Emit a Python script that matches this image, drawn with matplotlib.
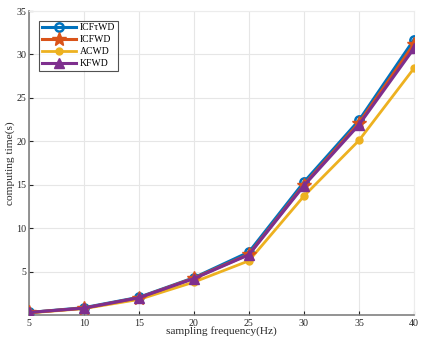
import matplotlib
matplotlib.use("Agg")
import matplotlib.pyplot as plt

freq = [5, 10, 15, 20, 25, 30, 35, 40]
icft_wd = [0.3, 0.85, 2.05, 4.3, 7.25, 15.3, 22.4, 31.7]
icf_wd = [0.3, 0.8, 2.0, 4.25, 7.0, 15.0, 22.1, 31.2]
ac_wd = [0.25, 0.75, 1.8, 3.8, 6.25, 13.7, 20.1, 28.4]
kf_wd = [0.3, 0.8, 2.0, 4.2, 6.95, 14.9, 21.9, 30.7]
labels = ["ICFτWD", "ICFWD", "ACWD", "KFWD"]
colors = ["#0072BD", "#D95319", "#EDB120", "#7E2F8E"]

plt.rcParams['font.family'] = ['Liberation Serif', 'DejaVu Serif']

fig = plt.figure(figsize=(4.25, 3.44), dpi=100)
ax = fig.add_axes([0.068, 0.084, 0.906, 0.884])

ax.plot(freq, icft_wd, color=colors[0], lw=2.2, marker='o', ms=6, mfc='none', mew=1.8, label=labels[0], zorder=3)
ax.plot(freq, icf_wd, color=colors[1], lw=2.2, marker='*', ms=10, label=labels[1], zorder=4)
ax.plot(freq, ac_wd, color=colors[2], lw=2.0, marker='o', ms=5, label=labels[2], zorder=3)
ax.plot(freq, kf_wd, color=colors[3], lw=2.2, marker='^', ms=7, label=labels[3], zorder=5)

ax.set_xlim(5, 40)
ax.set_ylim(0, 35)
ax.set_xticks(freq)
ax.set_yticks([5, 10, 15, 20, 25, 30, 35])
ax.tick_params(direction='in', labelsize=7.2, colors='#262626', length=3)
ax.tick_params(axis='x', pad=2.5)
ax.tick_params(axis='y', pad=2)
ax.grid(True, color='#e6e6e6', lw=0.8)
ax.set_axisbelow(True)
for s in ['left', 'bottom']:
    ax.spines[s].set_color('#808080')
    ax.spines[s].set_linewidth(1.2)
for s in ['top', 'right']:
    ax.spines[s].set_color('#ececec')
ax.set_xlabel('sampling frequency(Hz)', fontsize=8.2, color='#262626')
ax.set_ylabel('computing time(s)', fontsize=8.2, color='#262626')
ax.xaxis.set_label_coords(0.5, -0.036)
ax.yaxis.set_label_coords(-0.036, 0.5)
leg = ax.legend(loc='upper left', bbox_to_anchor=(0.022, 0.975), fontsize=7, frameon=True,
                fancybox=False, edgecolor='#262626', handlelength=3.5, borderpad=0.3,
                labelspacing=0.3, handletextpad=0.4, borderaxespad=0.2)
leg.get_frame().set_linewidth(0.8)
fig.savefig('out.png', dpi=100, facecolor='white')
